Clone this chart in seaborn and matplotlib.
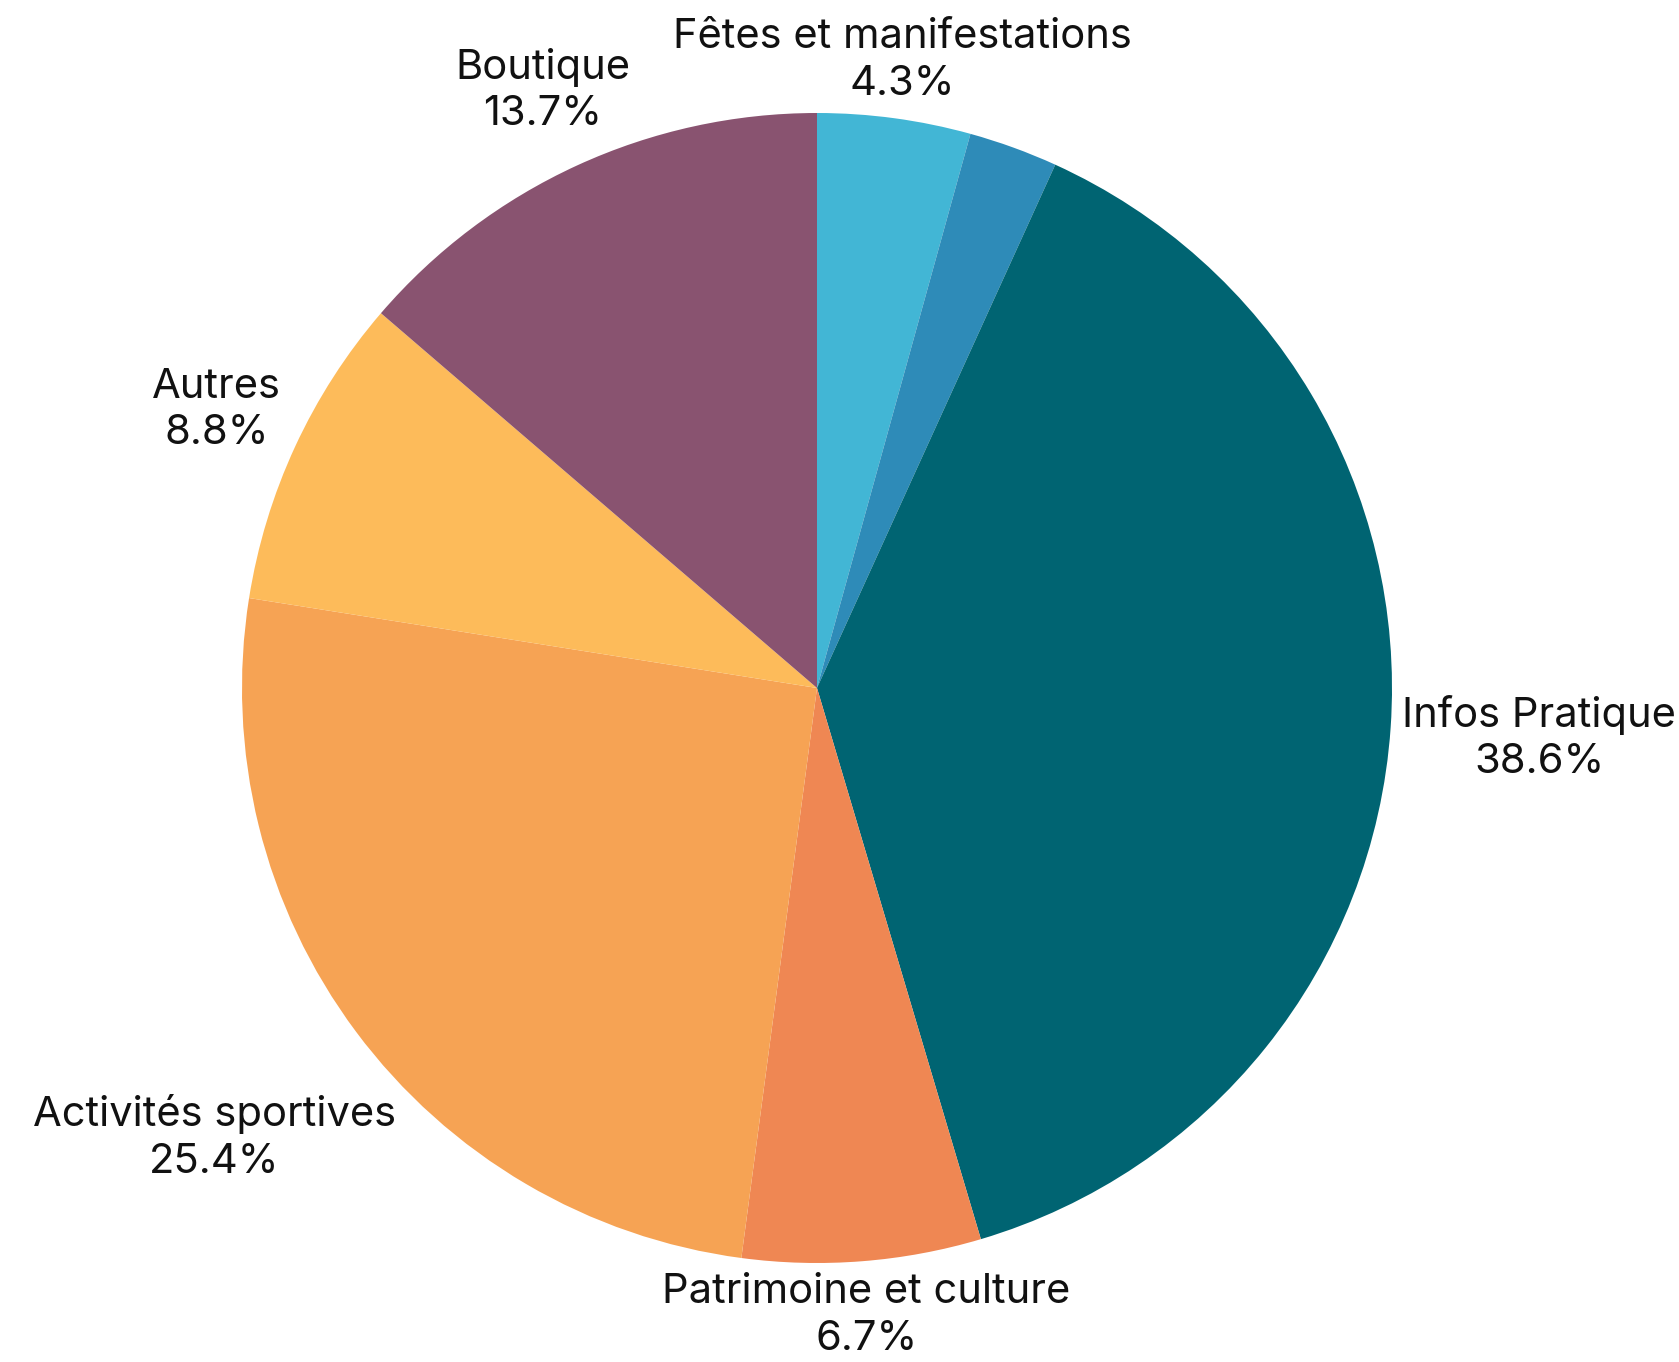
import matplotlib
matplotlib.use("Agg")
import matplotlib.pyplot as plt
import numpy as np
import seaborn as sns

categories = ["Fêtes et manifestations", "", "Infos Pratique", "Patrimoine et culture",
              "Activités sportives", "Autres", "Boutique"]
values = [4.3, 2.5, 38.6, 6.7, 25.4, 8.8, 13.7]
colors = ["#42b6d5", "#2e8bb8", "#006472", "#ef8753", "#f6a354", "#fdbb5a", "#895370"]

sns.set_theme(style="white")
plt.rcParams["font.family"] = ["Inter", "DejaVu Sans"]

W, H = 1679, 1362
fig = plt.figure(figsize=(W / 100, H / 100), dpi=100)
cx, cy, r = 817, 688, 575
ax = fig.add_axes([(cx - r) / W, (H - cy - r) / H, 2 * r / W, 2 * r / H])
wedges, _ = ax.pie(values, colors=colors, startangle=90, counterclock=False,
                   radius=1, wedgeprops=dict(linewidth=0))
ax.set_xlim(-1, 1)
ax.set_ylim(-1, 1)
ax.set_aspect("equal")
ax.axis("off")

fig.canvas.draw()
renderer = fig.canvas.get_renderer()
px_per_unit = r  # pixels per data unit
r0 = 1.018
for w, name, v in zip(wedges, categories, values):
    if not name:
        continue
    ang = np.deg2rad((w.theta1 + w.theta2) / 2)
    c, s = np.cos(ang), np.sin(ang)
    t = ax.text(0, 0, f"{name}\n{v:.1f}%", ha="center", va="center",
                fontsize=30, color="#111111", linespacing=1.28, fontweight="normal")
    bb = t.get_window_extent(renderer)
    hw = bb.width / 2 / px_per_unit
    hh = bb.height / 2 / px_per_unit

    def closest(d):
        x0, y0 = d * c, d * s
        qx = 0.0 if abs(x0) <= hw else abs(x0) - hw
        qy = 0.0 if abs(y0) <= hh else abs(y0) - hh
        return np.hypot(qx, qy)

    lo, hi = 0.0, 3.0
    for _ in range(60):
        mid = (lo + hi) / 2
        if closest(mid) < r0:
            lo = mid
        else:
            hi = mid
    t.set_position((hi * c, hi * s))

fig.savefig("out.png", dpi=100, facecolor="white")
